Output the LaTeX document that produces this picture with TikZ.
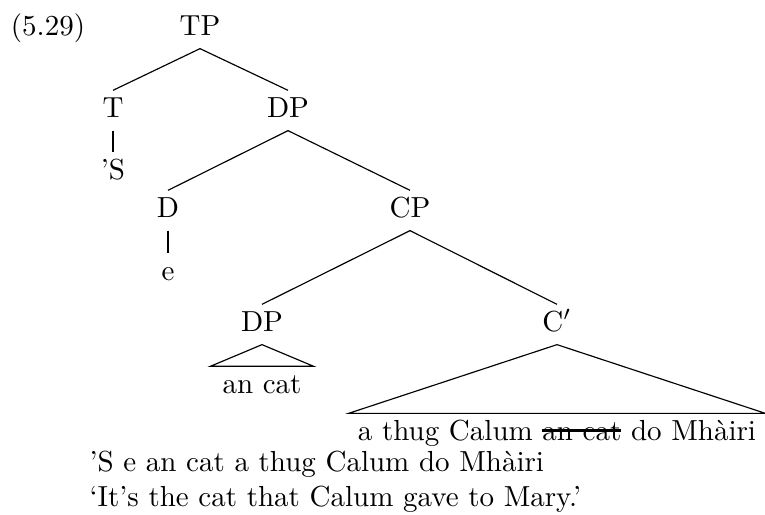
\documentclass[tikz,border=0pt]{standalone}
\usetikzlibrary{positioning}

\newlength\strklen
\newcommand\strk[1]{\settowidth\strklen{#1}\rlap{\rule[2.9pt]{\strklen}{0.8pt}}#1}

\tikzset{
  cat/.style={anchor=base, text height=7pt, text depth=2.5pt, inner sep=2pt},
  gloss/.style={anchor=base west, inner sep=0pt},
}

\begin{document}
\begin{tikzpicture}[x=0.3448pt, y=-0.3448pt]
\useasboundingbox (0,0) rectangle (765,514);

\node[anchor=base] (exnum) at (48,35) {(5.29)};

% tree
\node[cat] (tp) at (200,35) {TP};
\node[cat] (t) at (113,117) {T};
\node[cat] (dp) at (288,117) {DP};
\node[cat] (s) at (113,179) {'S};
\node[cat] (d) at (168,217) {D};
\node[cat] (cp) at (410,217) {CP};
\node[cat] (e) at (168,280) {e};
\node[cat] (dpb) at (262,331) {DP};
\node[cat] (cbar) at (557,331) {C$'$};
\node[cat, inner xsep=4pt] (ancat) at (262,393) {an cat};
\node[cat, inner xsep=3pt] (clause) at (557,440) {a thug Calum \strk{an cat} do Mhàiri};

\draw (tp.south) -- (t.north);
\draw (tp.south) -- (dp.north);
\draw (t.south) -- (s.north);
\draw (dp.south) -- (d.north);
\draw (dp.south) -- (cp.north);
\draw (d.south) -- (e.north);
\draw (cp.south) -- (dpb.north);
\draw (cp.south) -- (cbar.north);

% roofs
\draw (dpb.south) -- (ancat.north west) -- (ancat.north east) -- cycle;
\draw (cbar.south) -- (clause.north west) -- (clause.north east) -- cycle;

% gloss and translation
\node[gloss] (gloss1) at (89,471) {'S e an cat a thug Calum do Mhàiri};
\node[gloss] (gloss2) at (89,506) {`It's the cat that Calum gave to Mary.'};

\end{tikzpicture}
\end{document}
